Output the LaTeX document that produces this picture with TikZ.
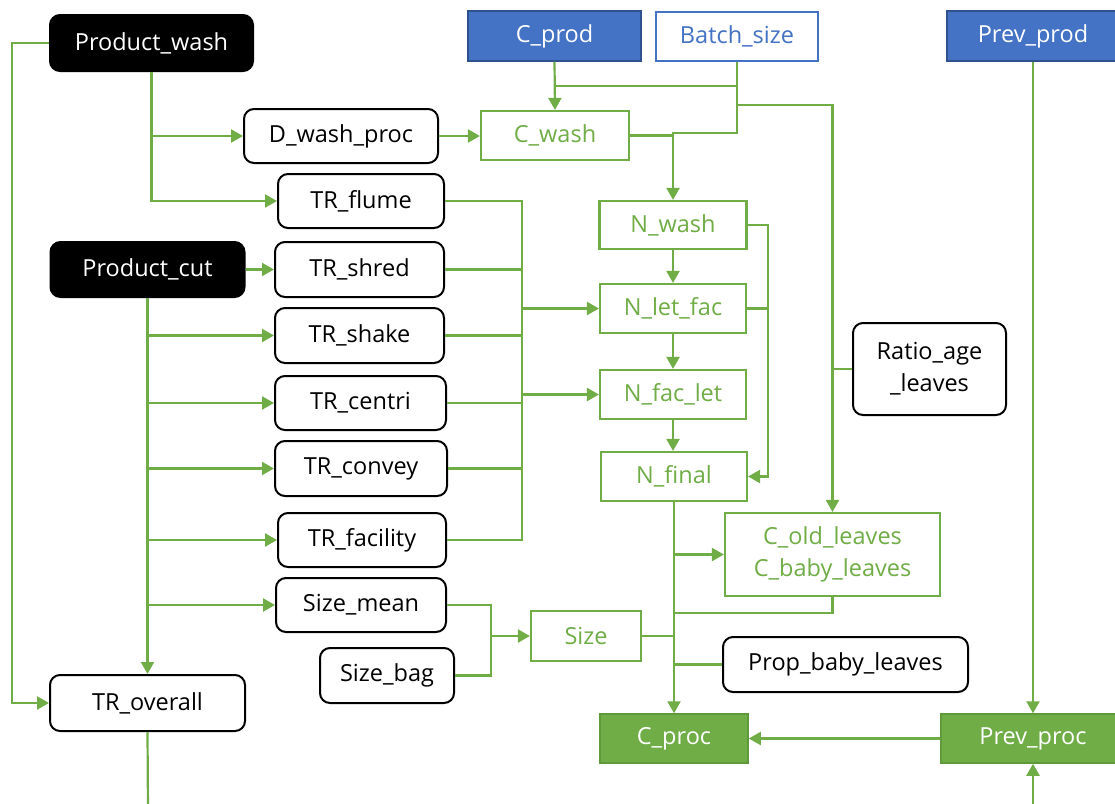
\documentclass[tikz,border=0pt]{standalone}
\usepackage{fontspec}
\setmainfont{Open Sans}
\usetikzlibrary{arrows.meta}
\definecolor{gr}{HTML}{70AD47}
\definecolor{grd}{HTML}{5E9A3A}
\definecolor{bl}{HTML}{4472C4}
\definecolor{bld}{HTML}{2F528F}
\begin{document}
\begin{tikzpicture}[x=1pt,y=-1pt,
  every node/.style={font=\fontsize{23.5}{32}\selectfont, inner sep=0pt, align=center},
  blk/.style={draw=black, line width=2pt, rounded corners=10pt, fill=white, text=black},
  dark/.style={fill=black, draw=black, line width=2pt, rounded corners=10pt, text=white},
  gbox/.style={draw=gr, line width=2.2pt, fill=white, text=gr},
  gfill/.style={draw=grd, line width=1.5pt, fill=gr, text=white},
  bfill/.style={draw=bld, line width=1.5pt, fill=bl, text=white},
  bbox/.style={draw=bl, line width=2pt, fill=white, text=bl},
  ln/.style={draw=gr, line width=2.2pt},
  arr/.style={ln, -{Triangle[length=12pt,width=13pt]}},
]
\useasboundingbox (0,0) rectangle (1115,803);
\clip (0,0) rectangle (1115,803);

% ---- nodes ----
\node[dark, minimum width=203pt, minimum height=56pt] (pw) at (151.5,43) {Product\_wash};
\node[blk, minimum width=194pt, minimum height=54pt] (dwash) at (341,136) {D\_wash\_proc};
\node[blk, minimum width=166pt, minimum height=54pt] (trflume) at (361,201) {TR\_flume};
\node[dark, minimum width=194pt, minimum height=55pt] (pc) at (147.5,269.5) {Product\_cut};
\node[blk, minimum width=169pt, minimum height=55pt] (trshred) at (359.5,269.5) {TR\_shred};
\node[blk, minimum width=169pt, minimum height=55pt] (trshake) at (359.5,335.5) {TR\_shake};
\node[blk, minimum width=171pt, minimum height=54pt] (trcentri) at (360.5,403) {TR\_centri};
\node[blk, minimum width=172pt, minimum height=55pt] (trconvey) at (361,468.5) {TR\_convey};
\node[blk, minimum width=168pt, minimum height=54pt] (trfac) at (362,540) {TR\_facility};
\node[blk, minimum width=170pt, minimum height=54pt] (smean) at (361,605) {Size\_mean};
\node[blk, minimum width=134pt, minimum height=55pt] (sbag) at (387,675.5) {Size\_bag};
\node[blk, minimum width=195pt, minimum height=56pt] (tro) at (147.5,703) {TR\_overall};

\node[bfill, minimum width=173pt, minimum height=50pt] (cprod) at (554.5,36) {C\_prod};
\node[bbox, minimum width=162pt, minimum height=49pt] (batch) at (737,36.5) {Batch\_size};
\node[bfill, minimum width=172pt, minimum height=50pt] (pprod) at (1033,36) {Prev\_prod};

\node[gbox, minimum width=148pt, minimum height=49pt] (cwash) at (555,135.5) {C\_wash};
\node[gbox, minimum width=147pt, minimum height=48pt] (nwash) at (673,225) {N\_wash};
\node[gbox, minimum width=146pt, minimum height=49pt] (nletfac) at (673,308.5) {N\_let\_fac};
\node[gbox, minimum width=146pt, minimum height=49pt] (nfaclet) at (673,394.5) {N\_fac\_let};
\node[gbox, minimum width=146pt, minimum height=49pt] (nfinal) at (674,476.5) {N\_final};

\node[blk, minimum width=153pt, minimum height=92pt] (ratio) at (929.5,369) {Ratio\_age\\\_leaves};
\node[gbox, minimum width=215pt, minimum height=83pt] (cold) at (832.5,554.5) {C\_old\_leaves\\C\_baby\_leaves};
\node[gbox, minimum width=110pt, minimum height=50pt] (size) at (586,636) {Size};
\node[blk, minimum width=245pt, minimum height=55pt] (prop) at (845.5,664.5) {Prop\_baby\_leaves};
\node[gfill, minimum width=148pt, minimum height=49pt] (cproc) at (674,738.5) {C\_proc};
\node[gfill, minimum width=184pt, minimum height=49pt] (pproc) at (1033,738.5) {Prev\_proc};

\coordinate (bottomL) at (148,812);
\coordinate (bottomR) at (1033,812);

% ---- connectors ----
% Product_wash
\draw[arr] (pw.west) -- ++(-37,0) |- (tro.west);
\draw[arr] (pw.south) |- (trflume.west);
\draw[arr] (pw.south |- dwash.west) -- (dwash.west);
\draw[arr] (dwash.east) -- (dwash.east -| cwash.west);

% C_prod, Batch_size
\draw[arr] (cprod.south) -- (cwash.north);
\draw[ln] (batch.south) -- (batch.south |- 0,86) -- (cprod.south |- 0,86);
\draw[arr] (batch.south |- 0,86) -- (batch.south |- 0,133) -| (nwash.north);
\draw[arr] (batch.south |- 0,105) -| (cold.north);
\draw[ln] (cwash.east) -- (cwash.east -| nwash.north);

% N chain
\draw[arr] (nwash.south) -- (nwash.south |- nletfac.north);
\draw[arr] (nletfac.south) -- (nletfac.south |- nfaclet.north);
\draw[arr] (nfaclet.south) -- (nfaclet.south |- nfinal.north);
\draw[arr] (nwash.east) -- ++(20,0) |- (nfinal.east);
\draw[ln] (nletfac.east) -- ++(20,0);

% TR bus
\coordinate (busT) at (522,201);
\coordinate (busB) at (522,540);
\draw[ln] (trflume.east) -- (busT) -- (busB) -- (trfac.east);
\draw[ln] (trshred.east) -- (trshred.east -| busT);
\draw[ln] (trshake.east) -- (trshake.east -| busT);
\draw[ln] (trcentri.east) -- (trcentri.east -| busT);
\draw[ln] (trconvey.east) -- (trconvey.east -| busT);
\draw[arr] (busT |- nletfac.west) -- (nletfac.west);
\draw[arr] (busT |- nfaclet.west) -- (nfaclet.west);

% Product_cut
\draw[arr] (pc.east) -- (trshred.west);
\draw[arr] (pc.south) -- (tro.north);
\draw[arr] (pc.south |- trshake.west) -- (trshake.west);
\draw[arr] (pc.south |- trcentri.west) -- (trcentri.west);
\draw[arr] (pc.south |- trconvey.west) -- (trconvey.west);
\draw[arr] (pc.south |- trfac.west) -- (trfac.west);
\draw[arr] (pc.south |- smean.west) -- (smean.west);

% Size
\draw[ln] (smean.east) -- (491,605) -- (491,636);
\draw[ln] (sbag.east) -- (491,675.5) -- (491,636);
\draw[arr] (491,636) -- (size.west);

% TR_overall down
\draw[ln] (tro.south) -- (bottomL);

% C_proc inputs
\draw[arr] (nfinal.south) -- (cproc.north);
\draw[arr] (cproc.north |- cold.west) -- (cold.west);
\draw[ln] (cold.south) -- (cold.south |- 0,613) -- (cproc.north |- 0,613);
\draw[ln] (size.east) -- (size.east -| cproc.north);
\draw[ln] (prop.west) -- (prop.west -| cproc.north);
\draw[ln] (ratio.west) -- (ratio.west -| cold.north);

% Prev
\draw[arr] (pprod.south) -- (pproc.north);
\draw[arr] (pproc.west) -- (cproc.east);
\draw[arr] (bottomR) -- (pproc.south);
\end{tikzpicture}
\end{document}
